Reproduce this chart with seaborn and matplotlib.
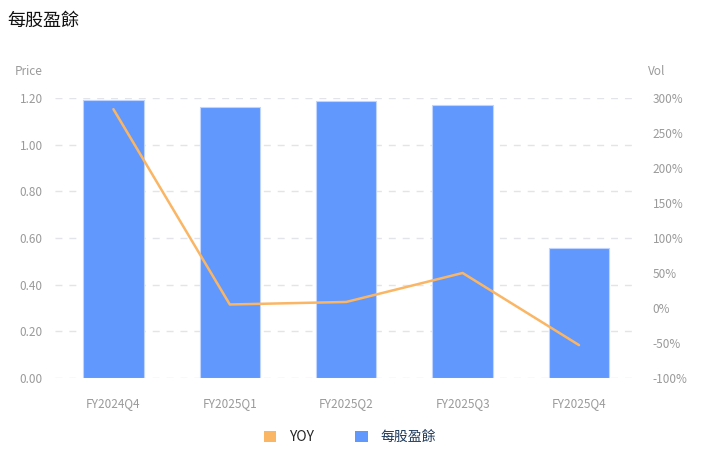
import numpy as np
import matplotlib
matplotlib.use("Agg")
import matplotlib.pyplot as plt
import seaborn as sns
from matplotlib.patches import Patch

# data
quarters = ["FY2024Q4", "FY2025Q1", "FY2025Q2", "FY2025Q3", "FY2025Q4"]
eps = [1.19, 1.16, 1.185, 1.17, 0.555]
yoy = [284, 5, 8.6, 50, -53]
left_ticks = [0.0, 0.2, 0.4, 0.6, 0.8, 1.0, 1.2]
right_ticks = [-100, -50, 0, 50, 100, 150, 200, 250, 300]

bar_color = "#6198FE"
line_color = "#FAB664"
tick_color = "#9A9A9A"

sns.set_style("white")
plt.rcParams["font.family"] = ["Noto Sans CJK TC", "DejaVu Sans"]

fig = plt.figure(figsize=(7.08, 4.53), dpi=100)
ax = fig.add_axes([0.078, 0.1656, 0.822, 0.6181])

sns.barplot(x=quarters, y=eps, color=bar_color, width=0.52, ax=ax,
            edgecolor="#BFD4FF", linewidth=0.8, saturation=1)
ax.set_ylim(0, 1.2)
ax.set_xlim(-0.5, len(quarters) - 0.5)
ax.set_yticks(left_ticks)
ax.set_yticklabels([f"{v:.2f}" for v in left_ticks])
ax.yaxis.grid(True, linestyle=(0, (5, 5)), color="#E3E3EA", linewidth=1)
ax.set_axisbelow(True)
ax.tick_params(axis="y", length=0, pad=9, labelsize=8.5, labelcolor=tick_color)
ax.tick_params(axis="x", length=0, pad=14, labelsize=8.5, labelcolor=tick_color)
ax.set_xlabel("")
ax.set_ylabel("")
for s in ax.spines.values():
    s.set_visible(False)

ax2 = ax.twinx()
sns.lineplot(x=np.arange(len(quarters)), y=yoy, color=line_color, linewidth=1.8, ax=ax2)
ax2.set_ylim(-100, 300)
ax2.set_yticks(right_ticks)
ax2.set_yticklabels([f"{v}%" for v in right_ticks])
ax2.tick_params(axis="y", length=0, pad=11, labelsize=8.5, labelcolor=tick_color)
for s in ax2.spines.values():
    s.set_visible(False)

fig.text(0.011, 0.955, "每股盈餘", fontsize=13, fontweight="medium", color="#111111",
         va="center", ha="left")
fig.text(0.040, 0.843, "Price", fontsize=8.5, color=tick_color, va="center", ha="center")
fig.text(0.928, 0.843, "Vol", fontsize=8.5, color=tick_color, va="center", ha="center")

handles = [Patch(facecolor=line_color, edgecolor="none", label="YOY"),
           Patch(facecolor=bar_color, edgecolor="none", label="每股盈餘")]
leg = fig.legend(handles=handles, loc="center", bbox_to_anchor=(0.494, 0.035), ncol=2,
                 frameon=False, fontsize=10, handlelength=0.9, handleheight=0.9,
                 handletextpad=0.9, columnspacing=3.0)
leg.get_texts()[1].set_color("#1F3A5A")

fig.savefig("out.png", dpi=100)
